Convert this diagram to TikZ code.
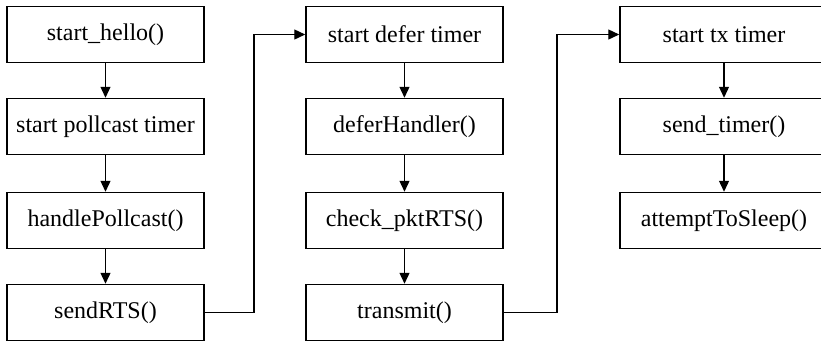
\documentclass[tikz,border=0pt]{standalone}
\usepackage{fontspec}
\setmainfont{Liberation Serif}
\usetikzlibrary{arrows.meta}
\begin{document}
\begin{tikzpicture}[x=1pt,y=-1pt,
  stepbox/.style={draw=black,line width=1.5pt,fill=white,rectangle,inner sep=0pt,
    minimum height=56pt,font=\fontsize{24}{28}\selectfont},
  colA/.style={stepbox,minimum width=197pt},
  colC/.style={stepbox,minimum width=208pt},
  flow/.style={line width=1.3pt,-{Triangle[length=11pt,width=10pt]}},
  link/.style={line width=1.3pt,-{Triangle[length=11pt,width=10pt]}}
]
\useasboundingbox (0,0) rectangle (821,341);
\clip (0,0) rectangle (821,341);
\fill[white] (0,0) rectangle (821,341);

% first column
\node[colA] (a1) at (105.5,34.5)  {start\_hello()};
\node[colA] (a2) at (105.5,126.5) {start pollcast timer};
\node[colA] (a3) at (105.5,220.5) {handlePollcast()};
\node[colA] (a4) at (105.5,312.5) {sendRTS()};

% second column
\node[colA] (b1) at (404.5,34.5)  {start defer timer};
\node[colA] (b2) at (404.5,126.5) {deferHandler()};
\node[colA] (b3) at (404.5,220.5) {check\_pktRTS()};
\node[colA] (b4) at (404.5,312.5) {transmit()};

% third column (runs past the right edge of the page)
\node[colC] (c1) at (724,34.5)  {start tx timer};
\node[colC] (c2) at (724,126.5) {send\_timer()};
\node[colC] (c3) at (724,220.5) {attemptToSleep()};

% arrows inside each column
\draw[flow] (a1) -- (a2);
\draw[flow] (a2) -- (a3);
\draw[flow] (a3) -- (a4);
\draw[flow] (b1) -- (b2);
\draw[flow] (b2) -- (b3);
\draw[flow] (b3) -- (b4);
\draw[flow] (c1) -- (c2);
\draw[flow] (c2) -- (c3);

% links between columns
\coordinate (jA) at (254,312.5);
\coordinate (jB) at (557,312.5);
\draw[link] (a4.east) -- (jA) |- (b1.west);
\draw[link] (b4.east) -- (jB) |- (c1.west);
\end{tikzpicture}
\end{document}
